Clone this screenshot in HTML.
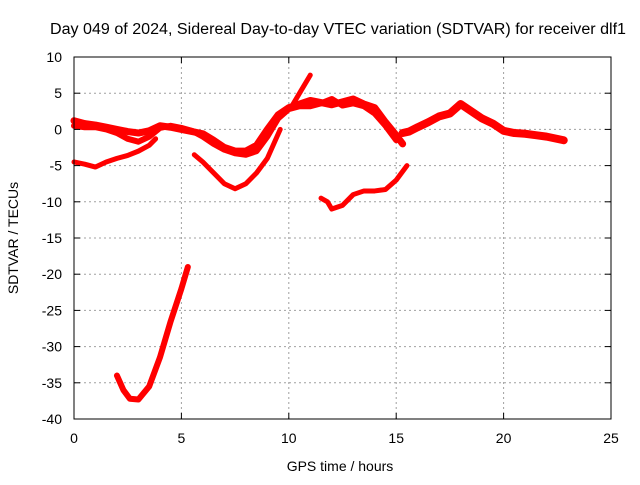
<!DOCTYPE html>
<html><head><meta charset="utf-8"><style>
body{margin:0;background:#fff;}
text{font-family:"Liberation Sans",sans-serif;font-size:14px;fill:#000;}
</style></head><body>
<svg width="640" height="480">
<g id="grid"></g>
<g id="series"></g>
<rect x="74" y="57" width="537" height="362" fill="none" stroke="#000"/>
<g id="ticks"></g>
<text x="338" y="34" text-anchor="middle" textLength="576" lengthAdjust="spacingAndGlyphs" style="font-size:15.5px">Day 049 of 2024, Sidereal Day-to-day VTEC variation (SDTVAR) for receiver dlf1</text>
<text x="340" y="471" text-anchor="middle">GPS time / hours</text>
<text x="18" y="238" text-anchor="middle" transform="rotate(-90 18 238)">SDTVAR / TECUs</text>
</svg>
<script>
const xTicks=[0,5,10,15,20,25];
const yTicks=[10,5,0,-5,-10,-15,-20,-25,-30,-35,-40];
const seriesUpperH=[0,0.5,1,1.5,2,2.5,3,3.5,4,4.5,5,5.5,6,6.5,7,7.5,8,8.5,9,9.5,10,10.5,11,11.5,12,12.5,13,13.5,14,14.5,15,15.3];
const seriesUpperV=[1.2,0.8,0.6,0.3,0,-0.3,-0.5,-0.2,0.5,0.3,0,-0.3,-0.6,-1.5,-2.5,-3,-3,-2.2,0,2,3,3.5,4,3.7,3.4,3.8,4.2,3.5,3,1,-0.8,-2];
const seriesRightH=[15.3,15.6,16,16.5,17,17.5,18,18.5,19,19.5,20,20.5,21,21.5,22,22.8];
const seriesRightV=[-0.5,-0.3,0.3,1,1.8,2.2,3.5,2.5,1.5,0.8,-0.2,-0.5,-0.6,-0.8,-1,-1.5];
const seriesUpper2H=[0,0.5,1,1.5,2,2.5,3,3.5,4,4.5,5,5.5,6,6.5,7,7.5,8,8.5,9,9.5,10,10.5,11,11.5,12,12.5,13,13.5,14,14.5,15];
const seriesUpper2V=[0.5,0.3,0.3,0,-0.5,-1.3,-1.7,-1,0.2,0.5,0.2,-0.2,-1,-2,-2.8,-3.3,-3.5,-3,-1,1.5,2.8,3.2,3.2,3.6,4.2,3.3,3.6,3.2,2.2,0.5,-1.5];
const seriesLowLeftH=[0,0.5,1,1.5,2,2.5,3,3.5,3.8];
const seriesLowLeftV=[-4.5,-4.8,-5.2,-4.5,-4,-3.6,-3,-2.2,-1.3];
const seriesDipH=[5.6,6,6.5,7,7.5,8,8.5,9,9.3,9.6];
const seriesDipV=[-3.5,-4.5,-6,-7.5,-8.2,-7.5,-6,-4,-2,0];
const seriesMidH=[11.5,11.8,12,12.5,13,13.5,14,14.5,15,15.5];
const seriesMidV=[-9.5,-10,-11,-10.5,-9,-8.5,-8.5,-8.3,-7,-5];
const seriesLowH=[2,2.3,2.6,3,3.5,4,4.5,5,5.3];
const seriesLowV=[-34,-36,-37.2,-37.3,-35.5,-31.5,-26.5,-22,-19];
const seriesSpikeH=[10.2,10.6,11];
const seriesSpikeV=[3.5,5.5,7.5];
const X0=74,X1=611,Y0=419,Y1=57;
const sx=h=>X0+(h-0)/(25-0)*(X1-X0);
const sy=v=>Y0-(v+40)/(50)*(Y0-Y1);
const NS="http://www.w3.org/2000/svg";
const grid=document.getElementById('grid'),ticks=document.getElementById('ticks'),ser=document.getElementById('series');
function mk(tag,attrs,parent){const e=document.createElementNS(NS,tag);for(const k in attrs)e.setAttribute(k,attrs[k]);parent.appendChild(e);return e;}
xTicks.forEach(t=>{const x=sx(t);
 if(t>0&&t<25){const l=mk('line',{x1:x,x2:x,y1:Y1,y2:Y0,stroke:'#a0a0a0','stroke-dasharray':'2,3'},grid);
 
 }
 mk('line',{x1:x,x2:x,y1:Y0,y2:Y0-6,stroke:'#000'},ticks);mk('line',{x1:x,x2:x,y1:Y1,y2:Y1+6,stroke:'#000'},ticks);
 const tx=mk('text',{x:x,y:Y0+24,'text-anchor':'middle'},ticks);tx.textContent=t;
 
 });
yTicks.forEach(t=>{const y=sy(t);
 if(t<10&&t>-40){const l=mk('line',{x1:X0,x2:X1,y1:y,y2:y,stroke:'#a0a0a0','stroke-dasharray':'2,3'},grid);
 
 }
 mk('line',{x1:X0,x2:X0+6,y1:y,y2:y,stroke:'#000'},ticks);mk('line',{x1:X1,x2:X1-6,y1:y,y2:y,stroke:'#000'},ticks);
 const tx=mk('text',{x:X0-12,y:y+5,'text-anchor':'end'},ticks);tx.textContent=t;
 
 });
function draw(H,V,w,name){const p=mk('polyline',{points:H.map((h,i)=>sx(h)+','+sy(V[i])).join(' '),fill:'none',stroke:'#ff0000','stroke-width':w,'stroke-linejoin':'round','stroke-linecap':'round'},ser);
 
 }
draw(seriesUpperH,seriesUpperV,7,'series-upper');
draw(seriesUpper2H,seriesUpper2V,6,'series-upper-2');
draw(seriesRightH,seriesRightV,8,'series-right');
draw(seriesLowLeftH,seriesLowLeftV,5,'series-low-left');
draw(seriesDipH,seriesDipV,5,'series-dip');
draw(seriesMidH,seriesMidV,5,'series-mid');
draw(seriesLowH,seriesLowV,6,'series-low');
draw(seriesSpikeH,seriesSpikeV,5,'series-spike');
</script>
</body></html>
